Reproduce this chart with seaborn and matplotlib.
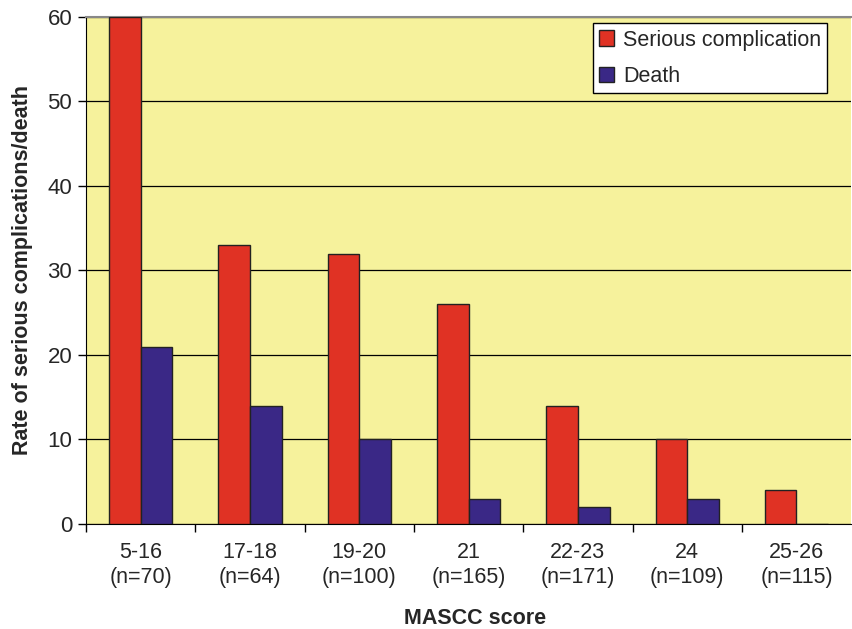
import matplotlib
matplotlib.use("Agg")
import matplotlib.pyplot as plt
import seaborn as sns
import pandas as pd

scores = ["5-16", "17-18", "19-20", "21", "22-23", "24", "25-26"]
n_patients = [70, 64, 100, 165, 171, 109, 115]
serious = [60, 33, 32, 26, 14, 10, 4]
death = [21, 14, 10, 3, 2, 3, 0]

labels = [f"{s}\n(n={n})" for s, n in zip(scores, n_patients)]
df = pd.DataFrame({
    "score": labels * 2,
    "rate": serious + death,
    "kind": ["Serious complication"] * len(scores) + ["Death"] * len(scores),
})

sns.set_style("white")
plt.rcParams["font.family"] = ["Liberation Sans", "DejaVu Sans"]

fig = plt.figure(figsize=(8.52, 6.29), dpi=100)
ax = fig.add_axes([0.101, 0.167, 0.898, 0.806])
ax.set_facecolor("#f6f29c")

sns.barplot(data=df, x="score", y="rate", hue="kind", order=labels,
            palette=["#e03224", "#3a2886"], width=0.58, saturation=1,
            edgecolor="#222222", linewidth=1.0, ax=ax, zorder=3)

ax.set_ylim(0, 60)
ax.set_xlim(-0.5, len(scores) - 0.5)
ax.set_yticks(range(0, 61, 10))
ax.yaxis.grid(True, color="black", linewidth=0.9, zorder=0)
ax.set_axisbelow(True)
ax.tick_params(axis="y", labelsize=16, direction="out", length=6, width=1, left=True,
               color="black", pad=4)

# category ticks sit on boundaries, labels at centers
ax.set_xticks([i + 0.5 for i in range(len(scores) - 1)] + [-0.5])
ax.set_xticklabels([])
ax.set_xticks(range(len(scores)), minor=True)
ax.set_xticklabels(labels, minor=True, fontsize=15.5, linespacing=1.25)
ax.tick_params(axis="x", which="major", direction="out", length=6, width=1, bottom=True, color="black")
ax.tick_params(axis="x", which="minor", length=0, pad=13)

ax.spines["right"].set_visible(False)
ax.spines["top"].set_color("#888888")
ax.spines["top"].set_linewidth(1.5)
ax.spines["left"].set_color("black")
ax.spines["bottom"].set_color("black")

ax.set_ylabel("Rate of serious complications/death", fontsize=15.5, fontweight="bold", labelpad=10)
ax.set_xlabel("")
fig.text(0.557, 0.016, "MASCC score", fontsize=15.5, fontweight="bold", ha="center", va="center")

leg = ax.legend(loc="upper right", bbox_to_anchor=(0.969, 0.988), fontsize=15.5, frameon=True,
                fancybox=False, edgecolor="black", framealpha=1, handlelength=0.7,
                handleheight=0.7, handletextpad=0.4, labelspacing=0.72, borderpad=0.3,
                borderaxespad=0)
leg.get_frame().set_linewidth(1.0)

fig.savefig("out.png", dpi=100)
